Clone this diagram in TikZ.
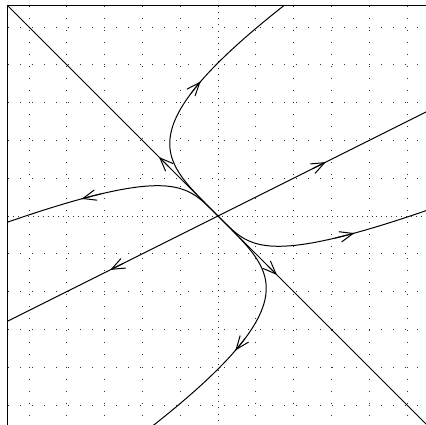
\documentclass[tikz,border=0pt]{standalone}
\usetikzlibrary{arrows.meta}
\newcommand\trajplot[3]{plot[domain=#2:#3,samples=160,variable=\t,smooth] ({\t+2*(#1)*\t*\t*\t*\t},{-\t+(#1)*\t*\t*\t*\t})}
\begin{document}
\begin{tikzpicture}[x=1cm,y=1cm,
  traj/.style={line width=0.75pt},
  arr/.style={line width=0.75pt,-{Straight Barb[length=10pt,width=8pt,line width=0.75pt]}},
  gridl/.style={line width=0.55pt, black!80, dash pattern=on 0.55pt off 8.5pt},
  axisx/.style={line width=0.55pt, black!80, dash pattern=on 0.55pt off 3.2pt},
  axisy/.style={line width=0.55pt, black!80, dash pattern=on 0.55pt off 4.1pt},
  framel/.style={line width=0.9pt}
]
\useasboundingbox (-5.767,-5.529) rectangle (5.503,5.714);
\clip (-5.767,-5.529) rectangle (5.503,5.714);
\begin{scope}
  \clip (-5.56,-5.56) rectangle (5.56,5.56);
  % grid
  \foreach \i in {-5,-4,-3,-2,-1,1,2,3,4,5} {
    \draw[gridl] (\i,5.56) -- (\i,-5.6);
    \draw[gridl] (-5.56,\i) -- (5.6,\i);
  }
  \draw[axisx] (-5.56,0) -- (5.6,0);
  \draw[axisy] (0,5.56) -- (0,-5.6);
  % eigen lines
  \draw[traj] (-5.6,-2.8) -- (5.6,2.8);
  \draw[traj] (-5.6,5.6) -- (5.6,-5.6);
  \draw[arr] (2.5,1.25) -- (2.85,1.425);
  \draw[arr] (-2.5,-1.25) -- (-2.85,-1.425);
  \draw[arr] (-1.3,1.3) -- (-1.56,1.56);
  \draw[arr] (1.3,-1.3) -- (1.56,-1.56);
  % trajectories
  \draw[traj] \trajplot{0.0254}{0}{-3.4};
  \draw[traj] \trajplot{-0.0254}{0}{3.4};
  \draw[traj] \trajplot{-0.205}{0}{-1.9};
  \draw[traj] \trajplot{0.205}{0}{1.9};
  % arrows on trajectories
  \draw[arr] \trajplot{0.0254}{-2.40}{-2.525};
  \draw[arr] \trajplot{-0.0254}{2.40}{2.525};
  \draw[arr] \trajplot{-0.205}{-1.42}{-1.505};
  \draw[arr] \trajplot{0.205}{1.42}{1.505};
\end{scope}
\draw[framel] (-5.56,-5.56) rectangle (5.56,5.56);
\end{tikzpicture}
\end{document}
